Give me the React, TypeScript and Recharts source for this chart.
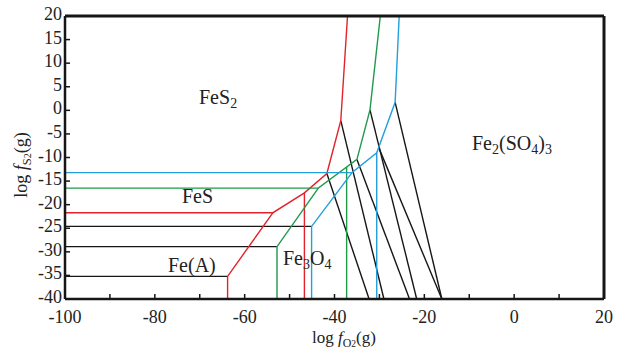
import React from 'react';
import { LineChart, Line, XAxis, YAxis, ReferenceLine } from 'recharts';

type Pt = { x: number; y: number };

const xTicks = [-100, -90, -80, -70, -60, -50, -40, -30, -20, -10, 0, 10, 20];
const yTicks = [-40, -35, -30, -25, -20, -15, -10, -5, 0, 5, 10, 15, 20];

// red set
const redMain: Pt[] = [
  { x: -100, y: -21.7 }, { x: -53.7, y: -21.7 }, { x: -46.7, y: -17.5 },
  { x: -41.7, y: -13.4 }, { x: -38.6, y: -2.2 }, { x: -37.1, y: 20 },
];
const redLow: Pt[] = [{ x: -63.8, y: -40 }, { x: -63.8, y: -35.2 }, { x: -53.7, y: -21.7 }];
const redVert: Pt[] = [{ x: -46.7, y: -40 }, { x: -46.7, y: -17.5 }];

// green set
const greenMain: Pt[] = [
  { x: -100, y: -16.5 }, { x: -43.6, y: -16.5 }, { x: -35.0, y: -10.4 },
  { x: -32.1, y: 0.1 }, { x: -29.8, y: 20 },
];
const greenLow: Pt[] = [{ x: -52.8, y: -40 }, { x: -52.8, y: -28.9 }, { x: -43.6, y: -16.5 }];
const greenVert: Pt[] = [{ x: -37.3, y: -40 }, { x: -37.3, y: -12.0 }];

// blue set
const blueMain: Pt[] = [
  { x: -100, y: -13.2 }, { x: -36.1, y: -13.2 }, { x: -30.6, y: -9.0 },
  { x: -26.5, y: 1.7 }, { x: -25.6, y: 20 },
];
const blueLow: Pt[] = [{ x: -45.1, y: -40 }, { x: -45.1, y: -24.6 }, { x: -36.1, y: -13.2 }];
const blueVert: Pt[] = [{ x: -30.6, y: -40 }, { x: -30.6, y: -9.0 }];

// black boundaries
const blackLines: Pt[][] = [
  [{ x: -100, y: -24.6 }, { x: -45.1, y: -24.6 }],
  [{ x: -100, y: -28.9 }, { x: -52.8, y: -28.9 }],
  [{ x: -100, y: -35.2 }, { x: -63.8, y: -35.2 }],
  [{ x: -41.7, y: -13.4 }, { x: -32.3, y: -40 }],
  [{ x: -38.6, y: -2.2 }, { x: -29.0, y: -40 }],
  [{ x: -35.0, y: -10.4 }, { x: -23.3, y: -40 }],
  [{ x: -32.1, y: 0.1 }, { x: -21.7, y: -40 }],
  [{ x: -30.2, y: -7.8 }, { x: -16.1, y: -40 }],
  [{ x: -26.5, y: 1.7 }, { x: -16.1, y: -40 }],
];

const RED = '#e3222b';
const GREEN = '#1f9a4a';
const BLUE = '#229fdc';
const BLACK = '#161616';
const font = '"Liberation Serif", "Times New Roman", serif';

const XTick = (props: any) => {
  const { x, y, payload } = props;
  const v = payload.value;
  return (
    <g>
      <line x1={x} x2={x} y1={y} y2={y - 5} stroke={BLACK} strokeWidth={1.5} />
      {v % 20 === 0 && (
        <text x={x} y={y + 24} textAnchor="middle" fontSize={18} fontFamily={font} fill="#222">
          {v}
        </text>
      )}
    </g>
  );
};

const YTick = (props: any) => {
  const { x, y, payload } = props;
  return (
    <g>
      <line x1={x} x2={x + 5} y1={y} y2={y} stroke={BLACK} strokeWidth={1.5} />
      <text x={x - 3} y={y + 4} textAnchor="end" fontSize={18} fontFamily={font} fill="#222">
        {payload.value}
      </text>
    </g>
  );
};

const sub: React.CSSProperties = { fontSize: '0.7em', position: 'relative', top: '0.3em' };

const Label = ({ left, top, size = 20, children }: any) => (
  <div
    style={{
      position: 'absolute', left, top, fontFamily: font, fontSize: size,
      lineHeight: 1, whiteSpace: 'nowrap', color: '#222',
    }}
  >
    {children}
  </div>
);

const seg = (data: Pt[], color: string, key: string) => (
  <Line
    key={key}
    data={data}
    dataKey="y"
    type="linear"
    stroke={color}
    strokeWidth={1.4}
    dot={false}
    isAnimationActive={false}
  />
);

export default function App() {
  return (
    <div style={{ position: 'absolute', left: 0, top: 0, width: 624, height: 349, background: '#fff' }}>
      <LineChart width={624} height={349} margin={{ top: 16, right: 20, bottom: 20, left: 0 }}>
        <XAxis
          type="number"
          dataKey="x"
          domain={[-100, 20]}
          ticks={xTicks}
          interval={0}
          tickSize={0}
          tickMargin={0}
          tickLine={false}
          tick={(p: any) => <XTick {...p} />}
          axisLine={{ stroke: BLACK, strokeWidth: 2.5 }}
          height={30}
        />
        <YAxis
          type="number"
          domain={[-40, 20]}
          ticks={yTicks}
          interval={0}
          tickSize={0}
          tickMargin={0}
          tickLine={false}
          tick={(p: any) => <YTick {...p} />}
          axisLine={{ stroke: BLACK, strokeWidth: 2.5 }}
          width={65}
        />
        {blackLines.map((d, i) => seg(d, BLACK, 'k' + i))}
        {seg(redMain, RED, 'r1')}
        {seg(redLow, RED, 'r2')}
        {seg(redVert, RED, 'r3')}
        {seg(greenMain, GREEN, 'g1')}
        {seg(greenLow, GREEN, 'g2')}
        {seg(greenVert, GREEN, 'g3')}
        {seg(blueMain, BLUE, 'b1')}
        {seg(blueLow, BLUE, 'b2')}
        {seg(blueVert, BLUE, 'b3')}
        <ReferenceLine y={20} stroke={BLACK} strokeWidth={3} />
        <ReferenceLine x={20} stroke={BLACK} strokeWidth={3} />
      </LineChart>
      <Label left={199} top={87}>FeS<span style={sub}>2</span></Label>
      <Label left={182} top={186}>FeS</Label>
      <Label left={168} top={255}>Fe(A)</Label>
      <Label left={283} top={248}>Fe<span style={sub}>3</span>O<span style={sub}>4</span></Label>
      <Label left={472} top={133}>Fe<span style={sub}>2</span>(SO<span style={sub}>4</span>)<span style={sub}>3</span></Label>
      <Label left={312} top={329} size={17}>
        log <i>f</i><span style={sub}>O<span style={{ fontSize: '0.8em' }}>2</span></span>(g)
      </Label>
      <div
        style={{
          position: 'absolute', left: 21, top: 165, transform: 'translate(-50%, -50%) rotate(-90deg)',
          fontFamily: font, fontSize: 18, lineHeight: 1, whiteSpace: 'nowrap', color: '#222',
        }}
      >
        log <i>f</i><span style={sub}>S<span style={{ fontSize: '0.8em' }}>2</span></span>(g)
      </div>
    </div>
  );
}
